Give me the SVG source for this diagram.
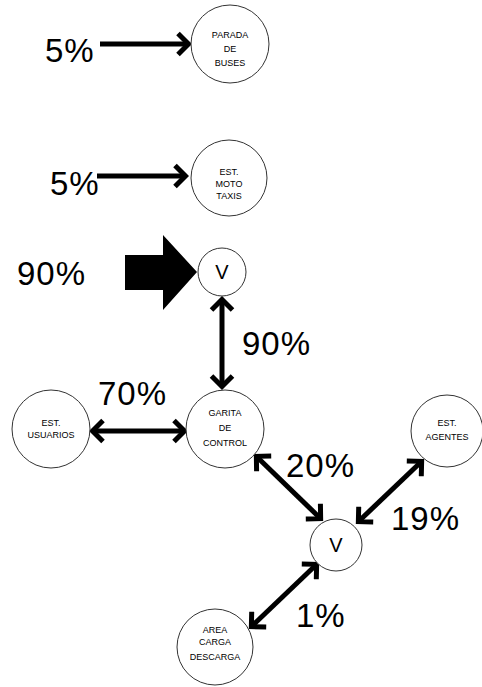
<svg xmlns="http://www.w3.org/2000/svg" width="482" height="687" viewBox="0 0 482 687">
<style>
.node circle{fill:#fff;stroke:#333;stroke-width:1}
.lbl{font-family:"Liberation Sans",Arial,sans-serif;font-size:9px;fill:#000;text-anchor:middle}
.v{font-family:"Liberation Sans",Arial,sans-serif;font-size:20px;fill:#000;text-anchor:middle}
.pct{font-family:"Liberation Sans",Arial,sans-serif;font-size:33px;fill:#000;letter-spacing:1px}
.c{stroke:#000;stroke-width:5;fill:none}
</style>
<defs>
<marker id="ah" markerUnits="userSpaceOnUse" viewBox="0 0 16 26" refX="13" refY="13" markerWidth="16" markerHeight="26" orient="auto-start-reverse">
<path d="M2,2.5 L12.5,13 L2,23.5" fill="none" stroke="#000" stroke-width="5" stroke-linejoin="miter"/>
</marker>
</defs>
<rect width="482" height="687" fill="#fff"/>
<g id="connectors">
<line class="c" x1="100" y1="44" x2="189" y2="44" marker-end="url(#ah)"/>
<line class="c" x1="97" y1="176" x2="186" y2="176" marker-end="url(#ah)"/>
<line class="c" x1="222" y1="299" x2="222" y2="387" marker-start="url(#ah)" marker-end="url(#ah)"/>
<line class="c" x1="92" y1="431" x2="185" y2="431" marker-start="url(#ah)" marker-end="url(#ah)"/>
<line class="c" x1="256" y1="456" x2="321" y2="519" marker-start="url(#ah)" marker-end="url(#ah)"/>
<line class="c" x1="422" y1="461" x2="358" y2="522" marker-start="url(#ah)" marker-end="url(#ah)"/>
<line class="c" x1="317" y1="564" x2="251" y2="627" marker-start="url(#ah)" marker-end="url(#ah)"/>
<polygon points="125,255 163,255 163,235 197,272 163,310 163,290 125,290" fill="#000"/>
</g>
<g id="labels">
<text class="pct" x="45" y="62">5%</text>
<text class="pct" x="50" y="195">5%</text>
<text class="pct" x="17" y="285">90%</text>
<text class="pct" x="242" y="355">90%</text>
<text class="pct" x="98" y="405">70%</text>
<text class="pct" x="286" y="477">20%</text>
<text class="pct" x="391" y="530">19%</text>
<text class="pct" x="296" y="627">1%</text>
</g>
<g id="parada" class="node">
<circle cx="230" cy="44" r="39"/>
<text class="lbl" x="230" y="38">PARADA</text>
<text class="lbl" x="230" y="52">DE</text>
<text class="lbl" x="230" y="66">BUSES</text>
</g>
<g id="mototaxis" class="node">
<circle cx="229" cy="178" r="38"/>
<text class="lbl" x="229" y="175">EST.</text>
<text class="lbl" x="229" y="187">MOTO</text>
<text class="lbl" x="229" y="199">TAXIS</text>
</g>
<g id="v1" class="node">
<circle cx="222" cy="272" r="24"/>
<text class="v" x="222" y="279">V</text>
</g>
<g id="usuarios" class="node">
<circle cx="51" cy="429" r="39"/>
<text class="lbl" x="51" y="426">EST.</text>
<text class="lbl" x="51" y="438">USUARIOS</text>
</g>
<g id="garita" class="node">
<circle cx="225" cy="429" r="39"/>
<text class="lbl" x="225" y="416">GARITA</text>
<text class="lbl" x="225" y="431">DE</text>
<text class="lbl" x="225" y="446">CONTROL</text>
</g>
<g id="agentes" class="node">
<circle cx="447" cy="431" r="36"/>
<text class="lbl" x="447" y="426">EST.</text>
<text class="lbl" x="447" y="440">AGENTES</text>
</g>
<g id="v2" class="node">
<circle cx="336" cy="545" r="26"/>
<text class="v" x="336" y="552">V</text>
</g>
<g id="area" class="node">
<circle cx="215" cy="647" r="38"/>
<text class="lbl" x="215" y="633">AREA</text>
<text class="lbl" x="215" y="645">CARGA</text>
<text class="lbl" x="215" y="660">DESCARGA</text>
</g>
</svg>
